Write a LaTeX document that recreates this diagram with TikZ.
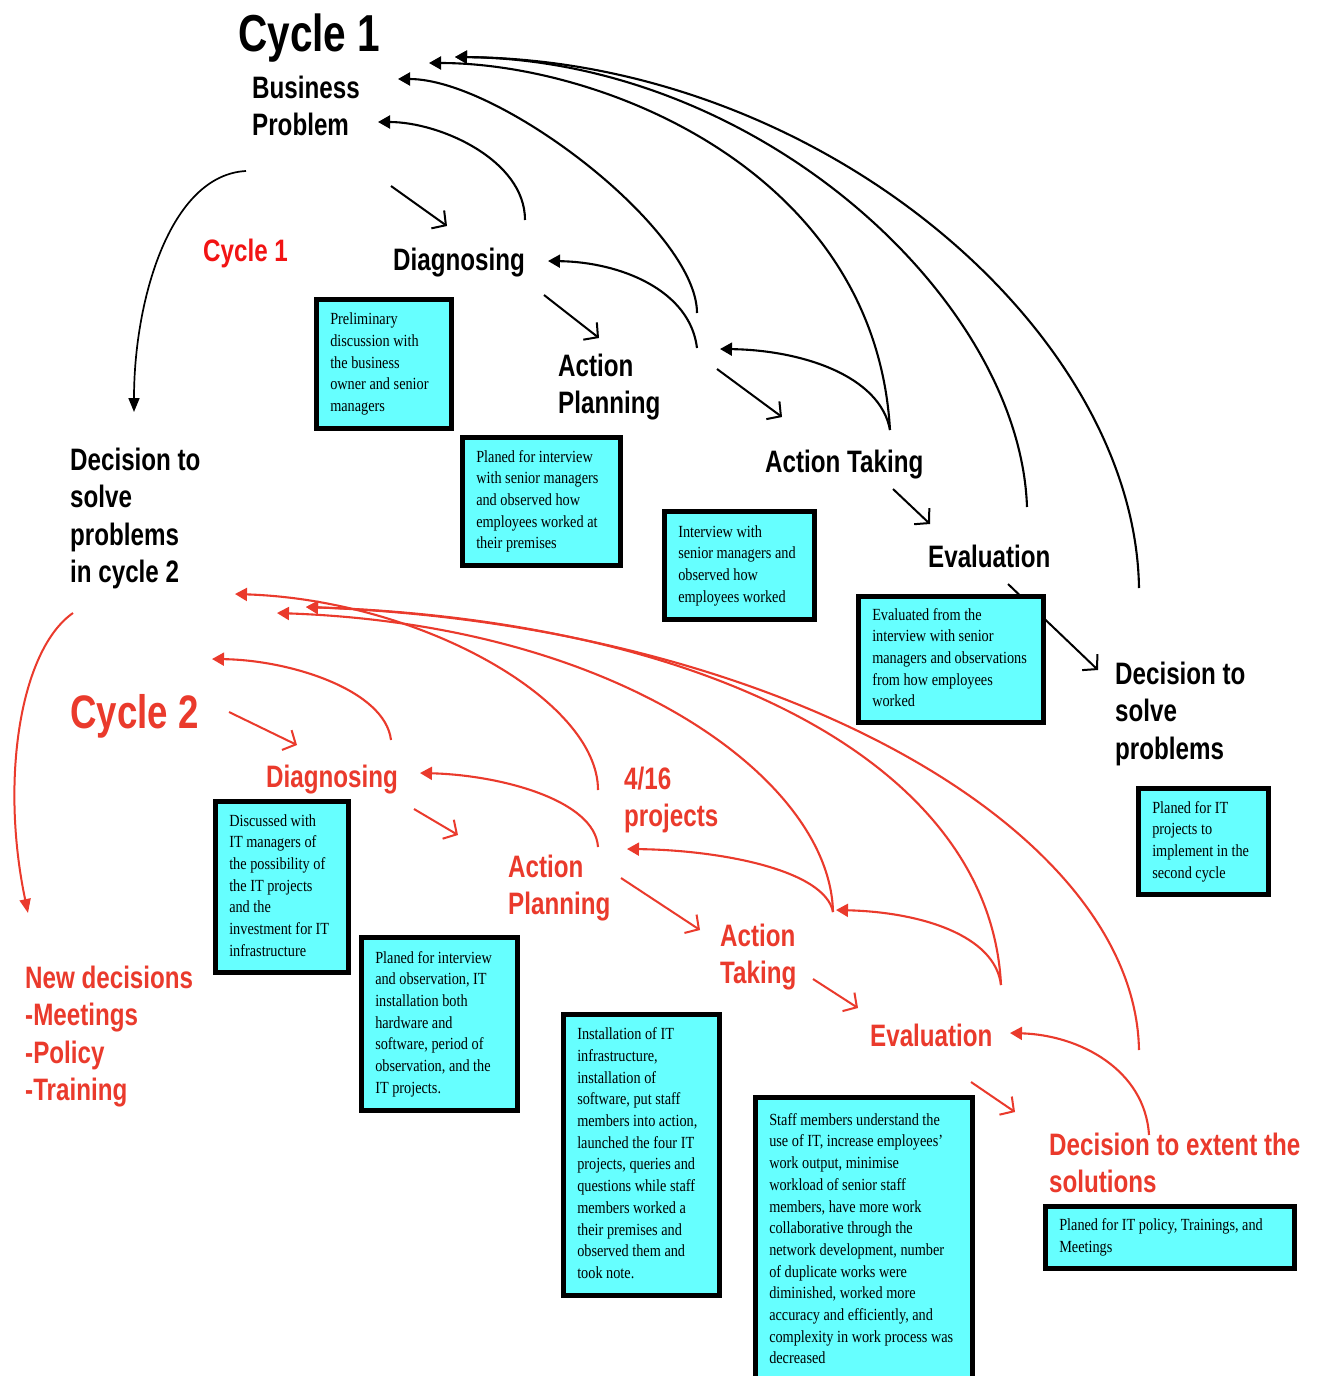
\documentclass[tikz,border=0pt]{standalone}
\usepackage{fontspec}
\usetikzlibrary{arrows.meta}
\newfontfamily\labfam[FakeStretch=0.78]{Liberation Sans}
\newfontfamily\boxfam[FakeStretch=0.84]{Liberation Serif}
\definecolor{ccyan}{HTML}{66FFFF}
\definecolor{cred}{HTML}{EA3A2C}
\definecolor{cpure}{HTML}{F21414}
\newcommand{\labfont}{\labfam\bfseries\fontsize{31}{37.5}\selectfont}
\newcommand{\bigfont}{\labfam\bfseries\fontsize{52}{60}\selectfont}
\newcommand{\midfont}{\labfam\bfseries\fontsize{47}{55}\selectfont}
\newcommand{\boxfont}{\boxfam\fontsize{17}{21.7}\selectfont}
% multi-line label whose baseline is that of its first line
\newcommand{\stk}[1]{\begin{tabular}[t]{@{}l@{}}#1\end{tabular}}
% text block of a cyan box: width, height, lines
\newcommand{\boxlines}[3]{\hbox to #1{\hspace*{14pt}\parbox[c][#2][c]{\dimexpr #1-14pt\relax}{\raggedright\boxfont\strut #3\strut}}}
\begin{document}
\begin{tikzpicture}[x=1pt,y=-1pt,
  lab/.style={anchor=base west, inner sep=0pt, font=\labfont},
  fb/.style={line width=2.1pt, -{Triangle[length=12pt,width=13pt]}},
  fwd/.style={line width=2pt, -{Straight Barb[length=10pt,width=22pt]}},
  loopar/.style={line width=1.7pt, -{Triangle[length=14pt,width=11pt]}},
  cbox/.style={draw=black, line width=4.5pt, fill=ccyan, inner sep=0pt, anchor=north west},
]
\useasboundingbox[fill=white] (0,0) rectangle (1320,1376);

% ---------- cycle 1: arrow end points ----------
\coordinate (l1a) at (246,171);  \coordinate (l1b) at (134,412);
\coordinate (s1a) at (391,186);  \coordinate (s1b) at (447,226);
\coordinate (s2a) at (544,295);  \coordinate (s2b) at (599,338);
\coordinate (s3a) at (717,369);  \coordinate (s3b) at (782,417);
\coordinate (s4a) at (893,489);  \coordinate (s4b) at (930,524);
\coordinate (s5a) at (1008,584); \coordinate (s5b) at (1098,670);
\coordinate (f1a) at (525,220);  \coordinate (f1b) at (378,122);
\coordinate (f2a) at (697,313);  \coordinate (f2b) at (398,79);
\coordinate (f3a) at (697,348);  \coordinate (f3b) at (548,261);
\coordinate (f4a) at (890,430);  \coordinate (f4b) at (720,349);
\coordinate (f5b) at (429,63);
\coordinate (f6a) at (1027,507); \coordinate (f6b) at (455,57);
\coordinate (f7a) at (1139,588);

% ---------- cycle 2: arrow end points ----------
\coordinate (l2a) at (73,613);   \coordinate (l2b) at (28,913);
\coordinate (r1a) at (229,712);  \coordinate (r1b) at (297,745);
\coordinate (r2a) at (414,809);  \coordinate (r2b) at (458,835);
\coordinate (r3a) at (621,878);  \coordinate (r3b) at (700,930);
\coordinate (r4a) at (813,979);  \coordinate (r4b) at (858,1008);
\coordinate (r5a) at (971,1082); \coordinate (r5b) at (1015,1112);
\coordinate (g1a) at (391,740);  \coordinate (g1b) at (212,659);
\coordinate (g2a) at (598,847);  \coordinate (g2b) at (420,773);
\coordinate (g3a) at (598,790);  \coordinate (g3b) at (235,594);
\coordinate (g4a) at (833,912);  \coordinate (g4b) at (627,849);
\coordinate (g5b) at (277,613);
\coordinate (g6a) at (1001,985); \coordinate (g6b) at (836,910);
\coordinate (g7b) at (306,607);
\coordinate (g8a) at (1139,1050);
\coordinate (g9a) at (1149,1135); \coordinate (g9b) at (1010,1033);

% ---------- cycle 1 connectors ----------
\begin{scope}[black]
\draw[loopar] (l1a) .. controls (170,175) and (134,300) .. (l1b);
\draw[fwd] (s1a) -- (s1b);
\draw[fwd] (s2a) -- (s2b);
\draw[fwd] (s3a) -- (s3b);
\draw[fwd] (s4a) -- (s4b);
\draw[fwd] (s5a) -- (s5b);
\draw[fb] (f1a) .. controls (525,160) and (440,122) .. (f1b);
\draw[fb] (f2a) .. controls (697,230) and (500,79) .. (f2b);
\draw[fb] (f3a) .. controls (690,290) and (620,262) .. (f3b);
\draw[fb] (f4a) .. controls (880,375) and (800,350) .. (f4b);
\draw[fb] (f4a) .. controls (875,170) and (600,63) .. (f5b);
\draw[fb] (f6a) .. controls (1020,300) and (760,60) .. (f6b);
\draw[fb] (f7a) .. controls (1135,330) and (820,60) .. (f6b);
\end{scope}

% ---------- cycle 2 connectors ----------
\begin{scope}[cred]
\draw[loopar, line width=2pt] (l2a) .. controls (20,650) and (0,780) .. (l2b);
\draw[fwd] (r1a) -- (r1b);
\draw[fwd] (r2a) -- (r2b);
\draw[fwd] (r3a) -- (r3b);
\draw[fwd] (r4a) -- (r4b);
\draw[fwd] (r5a) -- (r5b);
\draw[fb] (g1a) .. controls (385,690) and (290,660) .. (g1b);
\draw[fb] (g2a) .. controls (595,800) and (500,775) .. (g2b);
\draw[fb] (g3a) .. controls (598,700) and (420,600) .. (g3b);
\draw[fb] (g4a) .. controls (825,870) and (720,850) .. (g4b);
\draw[fb] (g4a) .. controls (830,780) and (620,625) .. (g5b);
\draw[fb] (g6a) .. controls (995,935) and (920,912) .. (g6b);
\draw[fb] (g6a) .. controls (990,760) and (700,620) .. (g7b);
\draw[fb] (g8a) .. controls (1135,830) and (780,625) .. (g7b);
\draw[fb] (g9a) .. controls (1145,1070) and (1080,1035) .. (g9b);
\end{scope}

% ---------- cyan boxes ----------
\node[cbox] (b1) at (314,297) {\boxlines{135pt}{129pt}{Preliminary\\discussion with\\the business\\owner and senior\\managers}};
\node[cbox] (b2) at (460,435) {\boxlines{158pt}{128pt}{Planed for interview\\with senior managers\\and observed how\\employees worked at\\their premises}};
\node[cbox] (b3) at (662,509) {\boxlines{150pt}{108pt}{Interview with\\senior managers and\\observed how\\employees worked}};
\node[cbox] (b4) at (856,594) {\boxlines{185pt}{126pt}{Evaluated from the\\interview with senior\\managers and observations\\from how employees\\worked}};
\node[cbox] (b5) at (1136,786) {\boxlines{130pt}{106pt}{Planed for IT\\projects to\\implement in the\\second cycle}};
\node[cbox] (b6) at (213,799) {\boxlines{133pt}{171pt}{Discussed with\\IT managers of\\the possibility of\\the IT projects\\and the\\investment for IT\\infrastructure}};
\node[cbox] (b7) at (359,935) {\boxlines{156pt}{173pt}{Planed for interview\\and observation, IT\\installation both\\hardware and\\software, period of\\observation, and the\\IT projects.}};
\node[cbox] (b8) at (561,1012) {\boxlines{156pt}{281pt}{Installation of IT\\infrastructure,\\installation of\\software, put staff\\members into action,\\launched the four IT\\projects, queries and\\questions while staff\\members worked a\\their premises and\\observed them and\\took note.}};
\node[cbox] (b9) at (753,1095) {\boxlines{217pt}{286pt}{Staff members understand the\\use of IT, increase employees’\\work output, minimise\\workload of senior staff\\members, have more work\\collaborative through the\\network development, number\\of duplicate works were\\diminished, worked more\\accuracy and efficiently, and\\complexity in work process was\\decreased}};
\node[cbox] (b10) at (1043,1204) {\boxlines{249pt}{62pt}{Planed for IT policy, Trainings, and\\Meetings}};

% ---------- cycle 1 labels ----------
\node[lab, font=\bigfont] (c1) at (238,51) {Cycle 1};
\node[lab] (bp) at (252,98) {\stk{Business\\Problem}};
\node[lab, text=cpure] (c1r) at (203,261) {Cycle 1};
\node[lab] (dg1) at (393,270) {Diagnosing};
\node[lab] (ap1) at (558,376) {\stk{Action\\Planning}};
\node[lab] (at1) at (765,472) {Action\ Taking};
\node[lab] (ev1) at (928,567) {Evaluation};
\node[lab] (ds1) at (1115,684) {\stk{Decision to\\solve\\problems}};
\node[lab] (ds0) at (70,470) {\stk{Decision to\\solve\\problems\\in cycle 2}};

% ---------- cycle 2 labels ----------
\node[lab, font=\midfont, text=cred] (c2) at (70,728) {Cycle 2};
\node[lab, text=cred] (dg2) at (266,787) {Diagnosing};
\node[lab, text=cred] (pj) at (624,789) {\stk{4/16\\projects}};
\node[lab, text=cred] (ap2) at (508,877) {\stk{Action\\Planning}};
\node[lab, text=cred] (at2) at (720,946) {\stk{Action\\Taking}};
\node[lab, text=cred] (ev2) at (870,1046) {Evaluation};
\node[lab, text=cred] (ds2) at (1049,1155) {\stk{Decision to extent the\\solutions}};
\node[lab, text=cred] (nd) at (25,988) {\stk{New decisions\\-Meetings\\-Policy\\-Training}};
\end{tikzpicture}
\end{document}
